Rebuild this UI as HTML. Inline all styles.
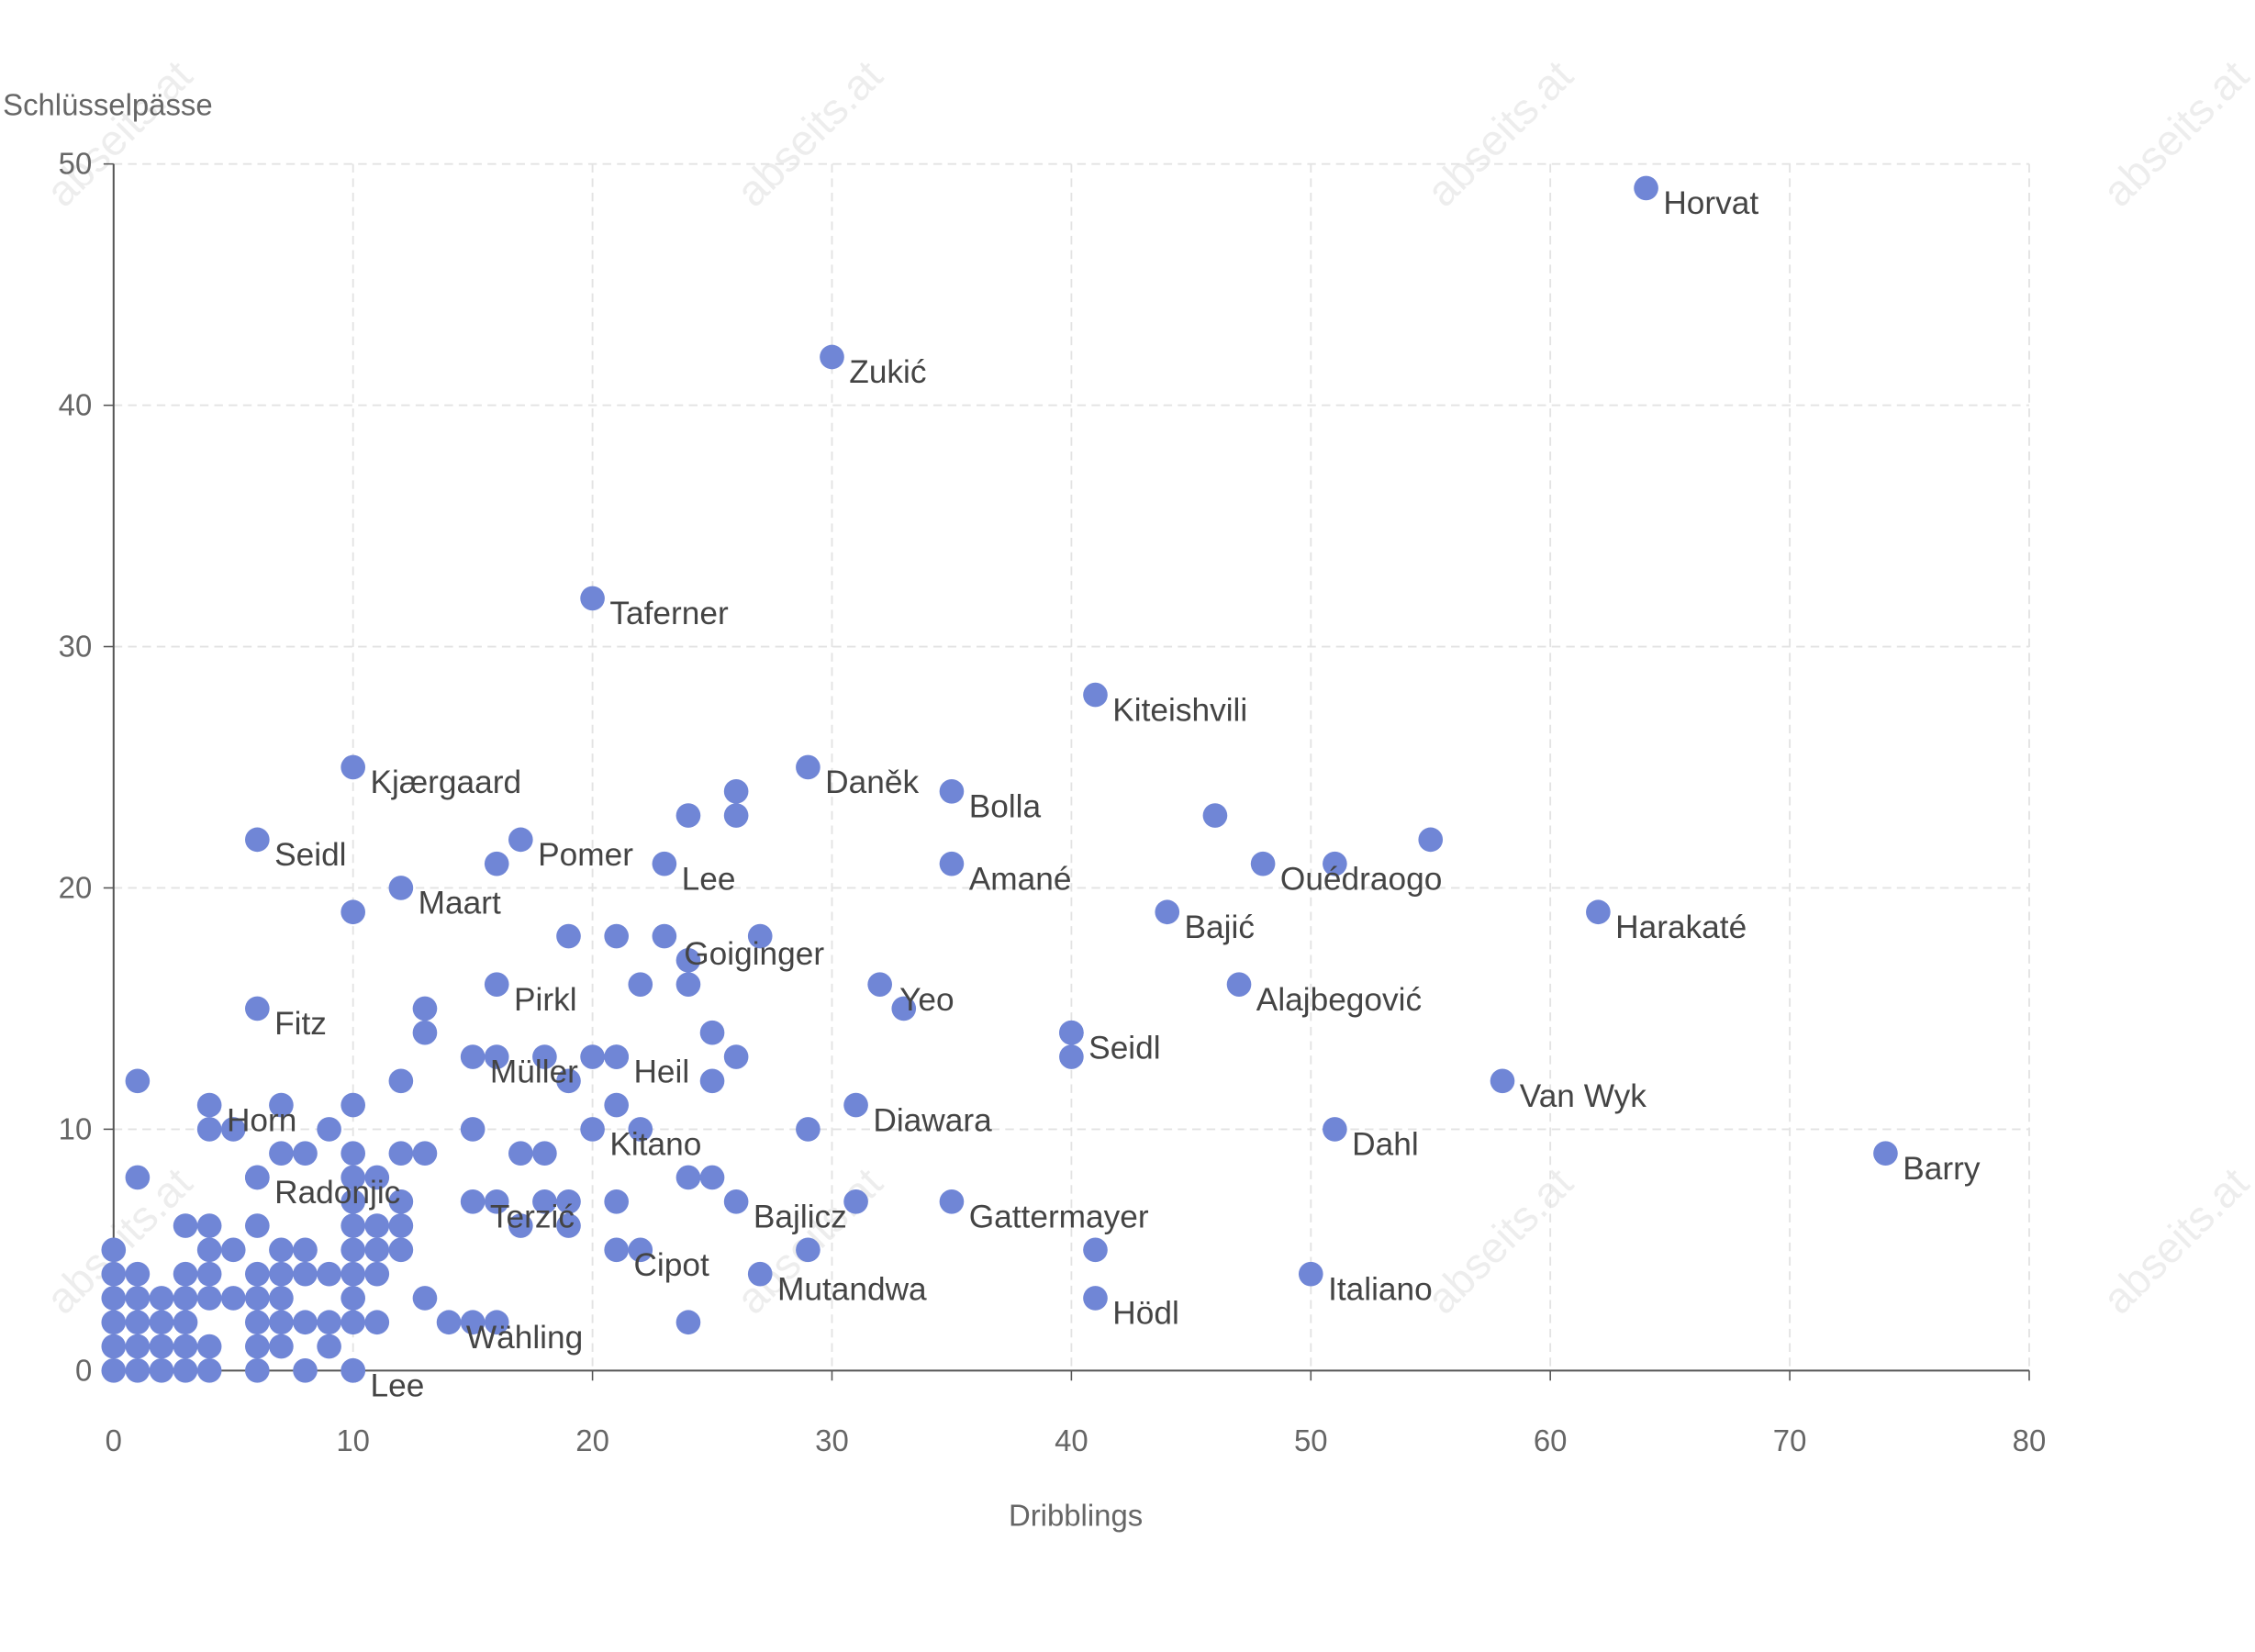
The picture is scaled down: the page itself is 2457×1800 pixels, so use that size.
<!DOCTYPE html>
<html><head><meta charset="utf-8"><style>
html,body{margin:0;padding:0;background:#fff}
svg{display:block}
text{font-family:"Liberation Sans","DejaVu Sans",sans-serif}
</style></head><body>
<svg id="c" width="2457" height="1800" viewBox="0 0 1568 1148.7" xmlns="http://www.w3.org/2000/svg">
<rect width="1568" height="1149" fill="#fff"/>
<g id="wm" fill="#000" fill-opacity="0.07" font-size="30"></g>
<g id="grid" stroke="#e3e3e3" stroke-width="1.2" stroke-dasharray="6,4"></g>
<line x1="79" y1="114" x2="79" y2="953" stroke="#555" stroke-width="1.3"/>
<line x1="79" y1="953" x2="1411" y2="953" stroke="#555" stroke-width="1.3"/>
<g id="ticks" fill="#666" font-size="21"></g>
<text x="2" y="80" font-size="21" fill="#666">Schlüsselpässe</text>
<text x="748" y="1061" font-size="21" fill="#666" text-anchor="middle">Dribblings</text>
<g id="dots" fill="#7086d6"></g>
<g id="labels" fill="#444" font-size="22.5"></g>
</svg>
<script>
var NS="http://www.w3.org/2000/svg";
function X(v){return 79+v*16.65}
function Y(v){return 953-v*16.78}
function el(p,t,a,txt){var e=document.createElementNS(NS,t);for(var k in a)e.setAttribute(k,a[k]);if(txt)e.textContent=txt;document.getElementById(p).appendChild(e);}
[[90,100],[570,100],[1050,100],[1520,100],[90,870],[570,870],[1050,870],[1520,870]].forEach(function(p){
 el("wm","text",{x:p[0],y:p[1],transform:"rotate(-45 "+p[0]+" "+p[1]+")","text-anchor":"middle"},"abseits.at");});
for(var i=1;i<=8;i++)el("grid","line",{x1:X(i*10),y1:114,x2:X(i*10),y2:953});
for(var j=1;j<=5;j++)el("grid","line",{x1:79,y1:Y(j*10),x2:1411,y2:Y(j*10)});
for(var i=0;i<=8;i++){el("ticks","text",{x:X(i*10),y:1009,"text-anchor":"middle"},""+i*10);
 el("ticks","line",{x1:X(i*10),y1:953,x2:X(i*10),y2:960,stroke:"#555"});}
for(var j=0;j<=5;j++){el("ticks","text",{x:64,y:Y(j*10)+7,"text-anchor":"end"},""+j*10);
 el("ticks","line",{x1:72,y1:Y(j*10),x2:79,y2:Y(j*10),stroke:"#555"});}
var L=[[64,49,"Horvat"],[30,42,"Zukić"],[20,32,"Taferner"],[41,28,"Kiteishvili"],[10,25,"Kjærgaard"],[29,25,"Daněk"],[35,24,"Bolla"],[6,22,"Seidl"],[17,22,"Pomer"],[23,21,"Lee"],[35,21,"Amané"],[48,21,"Ouédraogo"],[12,20,"Maart"],[62,19,"Harakaté"],[44,19,"Bajić"],[23.1,17.9,"Goiginger"],[16,16,"Pirkl"],[32.1,16,"Yeo"],[47,16,"Alajbegović"],[6,15,"Fitz"],[40,14,"Seidl"],[15,13,"Müller"],[21,13,"Heil"],[58,12,"Van Wyk"],[4,11,"Horn"],[31,11,"Diawara"],[20,10,"Kitano"],[51,10,"Dahl"],[74,9,"Barry"],[6,8,"Radonjic"],[15,7,"Terzić"],[26,7,"Bajlicz"],[35,7,"Gattermayer"],[21,5,"Cipot"],[27,4,"Mutandwa"],[50,4,"Italiano"],[41,3,"Hödl"],[14,2,"Wähling"],[10,0,"Lee"]];
var P=[[26,24],[24,23],[26,23],[46,23],[55,22],[51,21],[16,21],[10,19],[19,18],[21,18],[23,18],[27,18],[24,17],[22,16],[24,16],[32,16],[33,15],[13,15],[13,14],[25,14],[40,14],[40,13],[1,12],[15,13],[16,13],[18,13],[20,13],[21,13],[26,13],[12,12],[19,12],[25,12],[4,11],[7,11],[10,11],[21,11],[4,10],[5,10],[9,10],[15,10],[22,10],[29,10],[7,9],[8,9],[10,9],[12,9],[13,9],[17,9],[18,9],[1,8],[6,8],[10,8],[11,8],[24,8],[25,8],[10,7],[12,7],[15,7],[16,7],[18,7],[19,7],[21,7],[31,7],[3,6],[4,6],[6,6],[10,6],[11,6],[12,6],[17,6],[19,6],[0,5],[4,5],[5,5],[7,5],[8,5],[10,5],[11,5],[12,5],[22,5],[29,5],[41,5],[0,4],[1,4],[3,4],[4,4],[6,4],[7,4],[8,4],[9,4],[10,4],[11,4],[0,3],[1,3],[2,3],[3,3],[4,3],[5,3],[6,3],[7,3],[10,3],[13,3],[0,2],[1,2],[2,2],[3,2],[6,2],[7,2],[8,2],[9,2],[10,2],[11,2],[14,2],[15,2],[16,2],[24,2],[0,1],[1,1],[2,1],[3,1],[4,1],[6,1],[7,1],[9,1],[0,0],[1,0],[2,0],[3,0],[4,0],[6,0],[8,0],[10,0]];
var skip={"Goiginger":1,"Yeo":1,"Müller":1,"Horn":1,"Terzić":1,"Wähling":1};
P.forEach(function(p){el("dots","circle",{cx:X(p[0]),cy:Y(p[1]),r:8.5});});
L.forEach(function(p){if(!skip[p[2]])el("dots","circle",{cx:X(p[0]),cy:Y(p[1]),r:8.5});});
L.forEach(function(p){el("labels","text",{x:X(p[0])+12,y:Y(p[1])+18},p[2]);});
</script>
</body></html>
